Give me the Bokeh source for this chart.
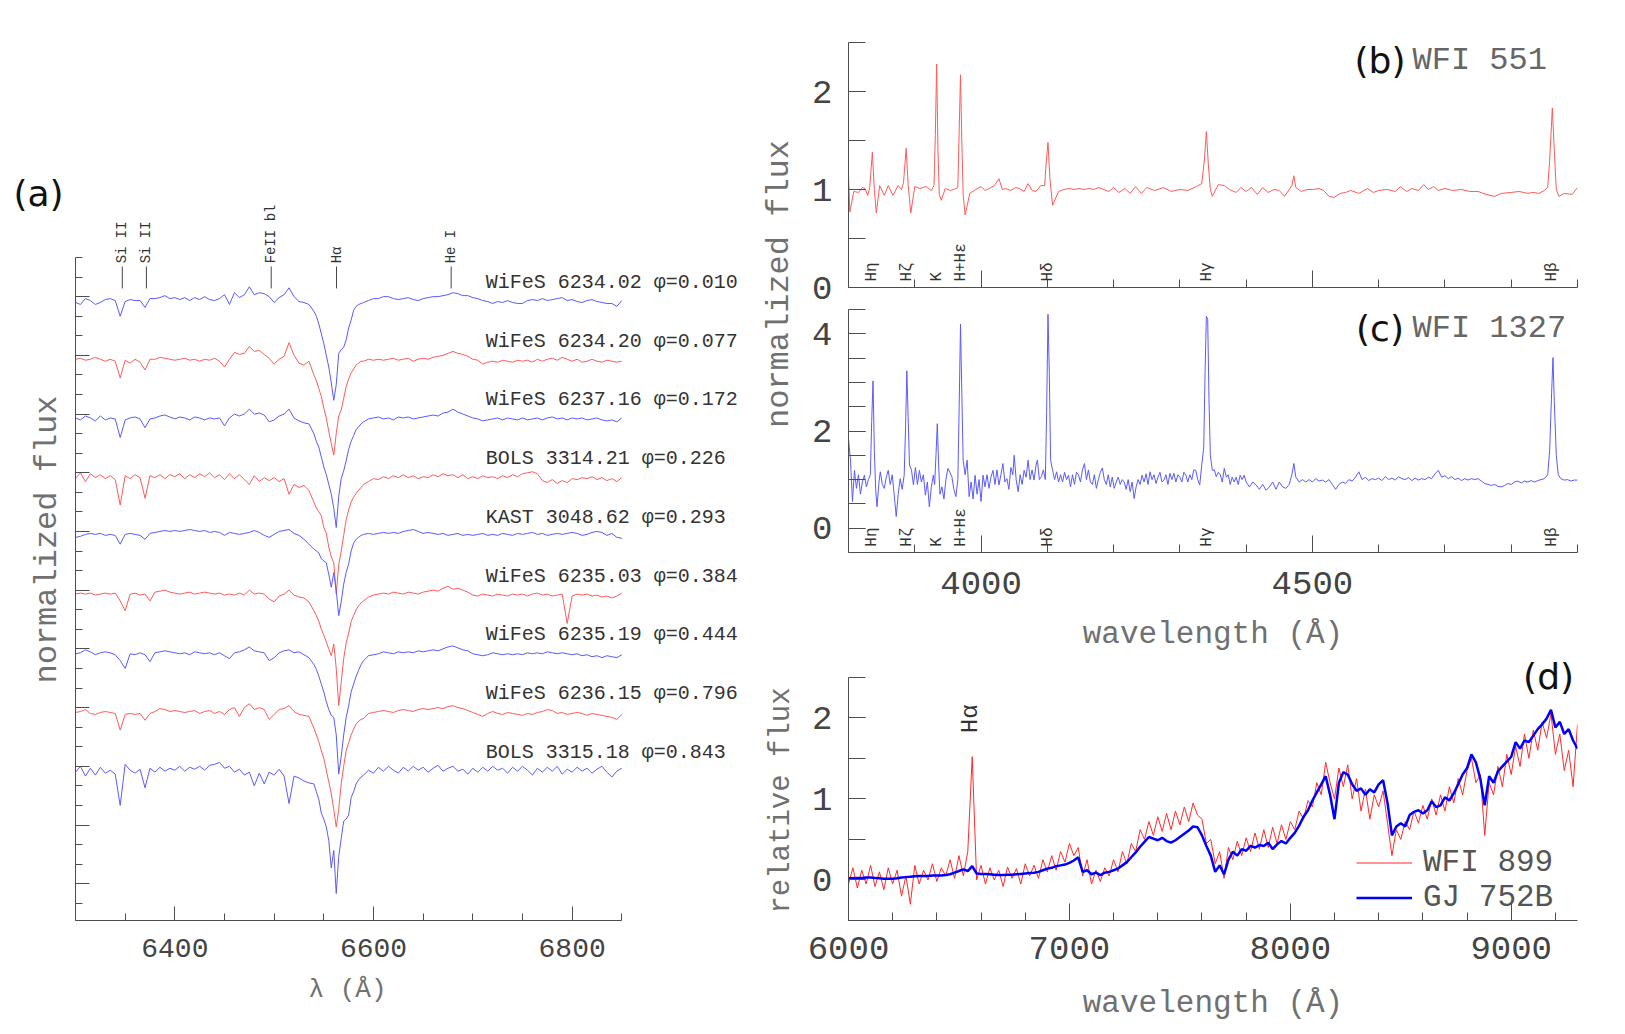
from math import pi

import numpy as np
from bokeh.embed import file_html
from bokeh.layouts import column, row
from bokeh.models import FixedTicker, Label, Legend, LegendItem, Range1d, Title
from bokeh.plotting import figure
from bokeh.resources import INLINE

MONO = "Liberation Mono"
SANS = "DejaVu Sans"
AXIS_COLOR = "#4d4d4d"
TICK_TEXT = "#444444"
TITLE_TEXT = "#707070"
BLUE = "#5a5aff"
RED = "#ff5a5a"

# ---------------------------------------------------------------------------
# (a) H-alpha region, nine epochs, each normalised and shifted down by 0.3
# ---------------------------------------------------------------------------
INSTRUMENTS = ["WiFeS", "WiFeS", "WiFeS", "BOLS", "KAST", "WiFeS", "WiFeS", "WiFeS", "BOLS"]
HJD = ["6234.02", "6234.20", "6237.16", "3314.21", "3048.62", "6235.03", "6235.19", "6236.15", "3315.18"]
PHASES = ["0.010", "0.077", "0.172", "0.226", "0.293", "0.384", "0.444", "0.796", "0.843"]

# wavelength sampling: 5 A on the continuum, 2.5 A across the line core
LAM_A = list(range(6300, 6540, 5)) + [6540 + 2.5 * k for k in range(21)] + list(range(6595, 6851, 5))

F_6234_02 = ([0.99, 0.98, 1.01, 1.00, 0.98, 0.99, 1.005, 1.01, 1.00, 0.92,
              0.995, 1.005, 1.00, 1.00, 0.965, 1.01, 1.01, 1.015, 1.025, 1.01,
              1.015, 1.005, 1.015, 1.00, 1.015, 1.005, 1.02, 1.005, 1.00, 1.01,
              1.03, 0.98, 1.04, 1.015, 1.03, 1.07, 1.03, 1.04, 1.035, 1.02,
              0.99, 1.015, 1.03, 1.065, 1.02, 0.995, 0.99, 0.98]
             + [0.945, 0.92, 0.88, 0.83, 0.78, 0.72, 0.66, 0.58, 0.49, 0.57,
                0.73, 0.75, 0.76, 0.80, 0.86, 0.90, 0.95, 0.97, 0.98, 0.985, 0.99]
             + [1.00, 1.01, 1.01, 1.02, 1.02, 1.01, 1.005, 1.01, 1.015, 1.005,
                1.00, 1.01, 1.015, 1.02, 1.02, 1.025, 1.03, 1.04, 1.035, 1.025,
                1.025, 1.015, 1.01, 1.00, 0.995, 0.985, 0.995, 0.99, 1.00, 0.99,
                0.985, 0.985, 1.00, 1.005, 1.00, 1.01, 1.00, 1.005, 1.01, 1.015,
                1.00, 1.005, 0.995, 0.99, 1.00, 1.005, 0.995, 0.99, 0.985, 0.985,
                0.97, 1.00])

F_6234_20 = ([1.00, 1.005, 0.995, 1.00, 1.01, 1.00, 0.99, 1.00, 0.99, 0.905,
              0.995, 0.98, 1.00, 0.985, 0.945, 1.00, 1.00, 1.01, 1.005, 1.00,
              0.995, 1.00, 1.005, 0.995, 1.00, 0.99, 1.00, 0.995, 1.005, 0.99,
              0.96, 1.00, 1.035, 1.025, 1.03, 1.065, 1.04, 1.045, 1.025, 1.005,
              0.975, 1.00, 1.015, 1.085, 1.02, 0.98, 0.97, 0.99]
             + [0.92, 0.89, 0.85, 0.81, 0.75, 0.70, 0.63, 0.57, 0.51, 0.62,
                0.71, 0.74, 0.80, 0.86, 0.90, 0.93, 0.95, 0.97, 0.98, 0.99, 0.99]
             + [1.00, 0.995, 1.00, 0.995, 1.00, 1.005, 0.995, 1.00, 1.005, 0.99,
                1.00, 1.005, 1.00, 1.01, 1.015, 1.02, 1.03, 1.04, 1.03, 1.025,
                1.015, 1.00, 0.995, 0.975, 0.985, 0.99, 0.985, 0.995, 0.99, 0.985,
                0.995, 0.99, 0.995, 0.985, 1.00, 0.99, 1.00, 1.005, 0.995, 1.01,
                1.00, 0.99, 1.00, 0.985, 0.99, 1.00, 0.99, 0.985, 0.995, 0.99,
                0.985, 0.99])

F_6237_16 = ([1.00, 0.99, 1.01, 1.00, 0.985, 1.01, 0.99, 1.00, 0.995, 0.90,
              0.99, 1.00, 1.005, 0.995, 0.95, 0.995, 1.00, 1.01, 1.015, 1.005,
              0.995, 1.005, 1.00, 0.99, 1.005, 1.00, 0.99, 1.00, 0.995, 1.00,
              0.96, 1.00, 1.02, 1.01, 1.02, 1.045, 1.02, 1.025, 1.015, 0.98,
              0.99, 1.01, 1.02, 1.045, 1.00, 0.985, 0.975, 0.97]
             + [0.92, 0.88, 0.85, 0.80, 0.75, 0.71, 0.66, 0.61, 0.54, 0.44,
                0.60, 0.69, 0.73, 0.78, 0.84, 0.88, 0.91, 0.94, 0.955, 0.97, 0.98]
             + [0.995, 1.00, 1.005, 0.995, 1.00, 0.99, 1.005, 1.00, 1.005, 0.995,
                1.00, 1.005, 1.01, 1.015, 1.01, 1.025, 1.03, 1.045, 1.03, 1.02,
                1.01, 1.00, 0.995, 0.985, 0.99, 0.995, 1.00, 0.99, 1.00, 0.995,
                0.99, 1.00, 0.99, 0.995, 1.00, 0.99, 1.00, 1.005, 0.995, 1.00,
                0.99, 1.00, 0.995, 1.00, 0.99, 0.995, 1.00, 0.99, 0.985, 0.99,
                0.98, 1.00])

F_3314_21 = ([0.99, 1.02, 0.975, 1.015, 0.995, 1.01, 0.99, 1.005, 0.985, 0.855,
              1.005, 0.99, 1.01, 0.995, 0.89, 1.005, 0.995, 1.01, 0.99, 1.01,
              1.00, 1.015, 0.99, 1.01, 0.995, 1.015, 1.00, 1.02, 0.995, 1.01,
              0.985, 1.015, 0.99, 1.01, 0.985, 0.96, 1.005, 0.975, 0.995, 0.98,
              0.995, 0.975, 0.99, 0.91, 0.96, 0.945, 0.955, 0.93]
             + [0.87, 0.84, 0.82, 0.80, 0.74, 0.71, 0.64, 0.59, 0.56, 0.40,
                0.55, 0.62, 0.70, 0.78, 0.83, 0.87, 0.895, 0.915, 0.93, 0.945, 0.96]
             + [0.975, 0.99, 0.985, 1.00, 0.99, 1.005, 0.995, 1.01, 0.995, 1.005,
                0.99, 1.00, 0.995, 1.01, 1.00, 1.015, 1.005, 1.01, 0.995, 1.01,
                0.99, 1.00, 0.99, 1.005, 0.995, 1.00, 0.99, 1.005, 0.995, 1.01,
                1.00, 1.015, 1.02, 1.025, 1.015, 0.98, 0.97, 0.985, 0.965, 0.98,
                0.97, 0.99, 0.985, 0.995, 0.99, 1.00, 0.985, 0.995, 0.98, 0.99,
                0.975, 0.995])

F_3048_62 = ([0.99, 0.995, 1.005, 1.01, 1.005, 1.01, 1.00, 1.005, 1.00, 0.955,
              1.005, 1.01, 1.005, 1.00, 0.98, 1.01, 1.015, 1.02, 1.025, 1.02,
              1.025, 1.02, 1.025, 1.03, 1.025, 1.02, 1.025, 1.015, 1.02, 1.015,
              1.00, 1.015, 1.01, 1.005, 1.01, 1.015, 1.025, 1.015, 1.00, 0.99,
              1.005, 1.02, 1.025, 1.03, 1.01, 1.00, 0.98, 0.955]
             + [0.93, 0.92, 0.91, 0.88, 0.87, 0.86, 0.80, 0.735, 0.81, 0.72,
                0.59, 0.66, 0.75, 0.81, 0.855, 0.92, 0.96, 0.98, 0.99, 1.00, 1.005]
             + [1.01, 1.005, 1.01, 1.015, 1.01, 1.015, 1.01, 1.02, 1.025, 1.03,
                1.02, 1.01, 1.015, 1.01, 1.005, 1.01, 1.00, 1.005, 1.01, 1.00,
                1.005, 1.00, 1.005, 1.01, 1.00, 1.005, 1.00, 1.01, 1.005, 1.00,
                1.01, 1.005, 1.01, 1.015, 1.005, 1.01, 1.00, 1.005, 1.01, 1.005,
                1.01, 1.015, 1.01, 1.00, 1.005, 1.015, 1.02, 1.015, 1.00, 1.01,
                0.99, 0.985])

F_6235_03 = ([1.00, 1.005, 1.00, 1.005, 0.995, 1.00, 1.005, 1.00, 1.005, 0.965,
              0.915, 1.00, 1.005, 0.995, 1.00, 0.965, 1.01, 1.015, 1.02, 1.01,
              1.005, 1.00, 1.005, 1.01, 1.00, 1.005, 1.01, 1.005, 1.00, 1.005,
              0.995, 1.00, 0.995, 1.005, 0.995, 1.02, 1.00, 1.005, 1.00, 0.975,
              0.96, 0.99, 1.00, 1.02, 0.995, 0.985, 0.98, 0.96]
             + [0.915, 0.89, 0.86, 0.82, 0.79, 0.755, 0.72, 0.685, 0.745, 0.62,
                0.43, 0.55, 0.67, 0.75, 0.80, 0.86, 0.89, 0.92, 0.94, 0.955, 0.965]
             + [0.985, 0.995, 1.00, 1.005, 1.00, 1.01, 1.005, 1.00, 1.01, 1.005,
                1.00, 1.01, 1.015, 1.02, 1.015, 1.03, 1.04, 1.025, 1.03, 1.02,
                1.01, 0.995, 0.99, 1.00, 0.995, 0.99, 1.00, 0.995, 0.99, 1.00,
                0.995, 1.00, 0.99, 1.00, 1.005, 0.995, 1.00, 0.99, 0.995, 1.00,
                0.85, 0.99, 1.00, 0.995, 1.00, 0.99, 0.995, 0.985, 0.99, 0.98,
                0.99, 1.005])

F_6235_19 = ([0.995, 1.00, 1.015, 1.005, 0.99, 1.00, 1.005, 1.00, 0.99, 0.96,
              0.92, 0.995, 0.99, 1.00, 0.99, 0.955, 1.00, 1.005, 1.01, 1.005,
              1.00, 0.995, 1.00, 0.99, 1.005, 1.00, 0.995, 1.00, 0.99, 1.00,
              0.985, 0.97, 1.00, 1.005, 1.015, 1.03, 1.01, 1.005, 1.00, 0.96,
              0.975, 1.00, 1.01, 1.015, 1.00, 1.005, 0.99, 0.975]
             + [0.94, 0.915, 0.88, 0.84, 0.80, 0.75, 0.71, 0.68, 0.67, 0.58,
                0.38, 0.47, 0.58, 0.67, 0.73, 0.80, 0.84, 0.88, 0.91, 0.94, 0.96]
             + [0.985, 0.99, 0.995, 1.005, 1.00, 0.995, 1.005, 1.00, 1.005, 1.00,
                1.01, 1.005, 1.01, 1.015, 1.01, 1.02, 1.03, 1.035, 1.025, 1.015,
                1.01, 0.995, 0.99, 0.985, 0.99, 1.00, 0.995, 0.99, 0.995, 0.99,
                0.995, 0.99, 1.00, 0.995, 1.00, 0.995, 1.005, 1.00, 0.995, 1.00,
                0.995, 0.99, 0.995, 0.985, 0.99, 0.98, 0.985, 0.975, 0.985, 0.98,
                0.975, 0.99])

F_6236_15 = ([0.995, 1.00, 1.01, 0.99, 0.985, 0.995, 1.00, 0.995, 0.99, 0.905,
              0.985, 0.99, 0.985, 0.99, 0.955, 0.99, 1.00, 1.015, 1.01, 1.00,
              1.005, 1.00, 0.995, 1.00, 1.005, 0.99, 1.00, 1.005, 0.99, 1.00,
              0.985, 1.01, 1.02, 0.975, 1.02, 1.04, 1.01, 1.02, 1.01, 0.96,
              0.985, 1.01, 1.015, 1.03, 1.00, 0.985, 0.98, 0.975]
             + [0.915, 0.88, 0.845, 0.80, 0.76, 0.70, 0.64, 0.58, 0.50, 0.41,
                0.50, 0.63, 0.72, 0.80, 0.84, 0.88, 0.91, 0.935, 0.95, 0.96, 0.965]
             + [0.99, 0.995, 1.00, 1.005, 1.00, 0.995, 1.005, 1.01, 1.005, 1.00,
                1.01, 1.015, 1.01, 1.015, 1.02, 1.015, 1.025, 1.03, 1.02, 1.015,
                1.005, 0.995, 0.985, 0.975, 0.99, 1.00, 0.99, 0.985, 0.995, 0.99,
                0.985, 0.98, 0.99, 0.985, 0.995, 1.00, 1.01, 1.005, 0.99, 0.995,
                0.985, 0.99, 0.995, 0.99, 0.98, 0.99, 0.985, 0.98, 0.975, 0.97,
                0.96, 0.985])

F_3315_18 = ([0.99, 1.02, 0.97, 1.01, 0.975, 1.015, 0.985, 1.00, 0.98, 0.82,
              1.03, 1.00, 0.985, 1.005, 0.91, 1.01, 0.99, 1.015, 0.995, 1.01,
              1.00, 1.02, 0.995, 1.015, 1.005, 1.02, 1.00, 1.025, 1.03, 1.04,
              1.01, 1.02, 0.99, 1.005, 0.975, 0.99, 0.92, 0.985, 0.93, 0.99,
              0.975, 1.005, 0.97, 0.83, 0.97, 0.96, 0.945, 0.935]
             + [0.93, 0.89, 0.85, 0.78, 0.75, 0.71, 0.64, 0.50, 0.59, 0.37,
                0.56, 0.65, 0.74, 0.75, 0.77, 0.86, 0.89, 0.93, 0.95, 0.965, 0.975]
             + [1.00, 0.985, 1.015, 0.995, 1.02, 1.00, 0.985, 1.015, 0.995, 1.02,
                1.00, 1.015, 0.99, 1.01, 1.025, 0.995, 1.01, 1.02, 0.995, 1.005,
                0.98, 1.01, 0.99, 1.015, 0.995, 1.02, 1.00, 1.01, 0.985, 1.015,
                0.995, 1.02, 1.00, 0.975, 1.01, 0.99, 1.015, 0.995, 1.02, 0.98,
                1.005, 0.99, 1.015, 0.995, 1.01, 0.985, 1.005, 1.02, 0.99, 0.965,
                0.995, 1.01])

SPECTRA_A = [F_6234_02, F_6234_20, F_6237_16, F_3314_21, F_3048_62,
             F_6235_03, F_6235_19, F_6236_15, F_3315_18]
COLORS_A = [BLUE, RED, BLUE, RED, BLUE, RED, BLUE, RED, BLUE]
OFFSET_A = 0.3
for f in SPECTRA_A:
    assert len(f) == len(LAM_A), (len(f), len(LAM_A))

LINE_IDS_A = ["Si II", "Si II", "FeII bl", "H\u03b1", "He I"]
LINE_WAVES_A = [6347.1, 6371.4, 6497.0, 6562.8, 6678.2]

# ---------------------------------------------------------------------------
# (b) WFI 551 and (c) WFI 1327, blue spectra (wavelength, normalised flux)
# ---------------------------------------------------------------------------
WFI551 = [(3800, 1.15), (3802, 0.77), (3808, 0.98), (3815, 0.97), (3821, 1.02), (3825, 1.01),
          (3829, 0.94), (3832, 1.02), (3836, 1.38), (3839, 1.00), (3842, 0.76), (3847, 1.04),
          (3854, 0.94), (3860, 1.04), (3867, 0.94), (3875, 1.04), (3880, 1.00), (3883, 1.07),
          (3887, 1.42), (3890, 1.05), (3894, 0.76), (3900, 1.03), (3908, 1.01), (3917, 1.03),
          (3925, 0.99), (3929, 1.04), (3931, 1.55), (3933, 2.28), (3935, 1.40), (3937, 0.95),
          (3940, 0.89), (3946, 1.01), (3954, 0.99), (3962, 1.01), (3965, 1.02), (3967, 1.60),
          (3969, 2.17), (3971, 1.50), (3973, 0.95), (3976, 0.74), (3983, 0.96), (3992, 1.00),
          (4000, 1.03), (4006, 0.99), (4012, 1.01), (4020, 1.04), (4027, 1.11), (4032, 1.00),
          (4037, 1.01), (4045, 0.99), (4052, 1.02), (4058, 1.01), (4065, 0.98), (4071, 1.06),
          (4077, 0.99), (4083, 0.98), (4090, 1.04), (4096, 1.04), (4098, 1.25), (4101, 1.48),
          (4104, 1.10), (4108, 0.84), (4117, 0.98), (4125, 1.00), (4133, 1.01), (4140, 1.00),
          (4148, 1.01), (4155, 1.00), (4163, 1.01), (4170, 1.00), (4178, 1.02), (4185, 1.00),
          (4193, 0.98), (4200, 1.02), (4208, 0.97), (4217, 1.01), (4225, 0.96), (4233, 1.03),
          (4242, 0.96), (4250, 1.02), (4262, 0.99), (4275, 1.02), (4287, 0.98), (4300, 1.00),
          (4312, 0.99), (4325, 1.03), (4333, 1.06), (4337, 1.30), (4340, 1.59), (4343, 1.25),
          (4346, 1.00), (4349, 0.93), (4358, 1.05), (4367, 1.04), (4375, 1.00), (4385, 0.97),
          (4392, 1.02), (4400, 0.98), (4408, 1.02), (4417, 0.95), (4425, 1.02), (4433, 0.97),
          (4442, 1.00), (4450, 0.99), (4458, 0.93), (4465, 1.00), (4469, 1.04), (4472, 1.14),
          (4475, 1.02), (4483, 0.98), (4492, 1.00), (4500, 1.00), (4510, 1.01), (4517, 0.99),
          (4525, 0.93), (4533, 0.92), (4542, 0.96), (4550, 0.97), (4558, 0.99), (4570, 0.96),
          (4583, 1.01), (4592, 0.97), (4600, 0.99), (4612, 1.00), (4625, 0.98), (4633, 1.03),
          (4642, 0.98), (4650, 1.01), (4660, 0.99), (4668, 1.05), (4675, 1.00), (4683, 1.03),
          (4690, 0.99), (4700, 1.01), (4712, 0.99), (4725, 1.00), (4737, 0.98), (4750, 0.98),
          (4762, 0.95), (4775, 0.93), (4785, 0.96), (4800, 0.97), (4812, 0.98), (4825, 0.96),
          (4833, 0.97), (4842, 0.96), (4850, 0.99), (4855, 1.02), (4858, 1.30), (4862, 1.83),
          (4865, 1.40), (4868, 1.00), (4872, 0.93), (4880, 0.96), (4892, 0.95), (4900, 1.02)]

WFI1327 = [(3800, 1.84), (3803, 1.40), (3806, 0.55), (3809, 1.19), (3812, 0.82), (3815, 1.10),
           (3818, 0.70), (3821, 0.95), (3824, 1.09), (3827, 0.85), (3830, 1.00), (3833, 1.10),
           (3835, 2.20), (3837, 3.03), (3839, 1.60), (3841, 0.80), (3843, 0.44), (3846, 0.95),
           (3848, 1.16), (3851, 0.90), (3854, 0.82), (3857, 1.05), (3860, 1.19), (3863, 0.90),
           (3866, 1.10), (3869, 0.68), (3872, 0.24), (3875, 0.70), (3878, 1.02), (3881, 0.80),
           (3884, 1.09), (3886, 2.00), (3888, 3.24), (3890, 2.30), (3892, 1.30), (3895, 1.20),
           (3898, 0.89), (3901, 1.25), (3904, 0.90), (3907, 1.19), (3910, 0.95), (3913, 1.10),
           (3916, 0.68), (3919, 0.95), (3922, 0.44), (3925, 0.85), (3928, 1.09), (3930, 0.90),
           (3932, 1.50), (3934, 2.15), (3936, 1.30), (3938, 0.70), (3941, 0.85), (3944, 0.60),
           (3947, 1.00), (3950, 1.23), (3953, 1.15), (3956, 1.06), (3959, 0.80), (3962, 0.65),
           (3965, 1.00), (3967, 2.50), (3969, 4.20), (3971, 2.80), (3973, 1.40), (3976, 1.10),
           (3979, 1.40), (3982, 0.65), (3985, 0.95), (3988, 0.60), (3991, 1.09), (3994, 0.70),
           (3997, 1.00), (4000, 0.55), (4003, 1.09), (4006, 0.85), (4009, 1.10), (4012, 0.82),
           (4015, 1.05), (4018, 1.19), (4021, 0.90), (4024, 1.20), (4027, 0.89), (4030, 1.10),
           (4033, 1.33), (4036, 0.95), (4039, 1.02), (4042, 0.80), (4045, 1.25), (4048, 1.10),
           (4050, 1.50), (4053, 1.00), (4056, 0.75), (4059, 1.10), (4062, 0.90), (4065, 1.19),
           (4068, 1.05), (4071, 1.40), (4074, 1.00), (4077, 1.20), (4080, 0.99), (4083, 1.30),
           (4085, 1.40), (4088, 1.00), (4091, 1.06), (4094, 1.20), (4097, 1.00), (4099, 2.40),
           (4101, 4.40), (4103, 3.20), (4105, 1.40), (4108, 1.19), (4111, 1.00), (4114, 1.16),
           (4117, 0.95), (4120, 1.10), (4123, 0.95), (4126, 1.15), (4129, 1.00), (4132, 1.09),
           (4135, 0.85), (4138, 1.10), (4141, 0.90), (4144, 1.15), (4147, 1.10), (4150, 0.95),
           (4153, 1.20), (4156, 1.33), (4159, 1.00), (4162, 1.20), (4165, 0.95), (4168, 0.90),
           (4171, 1.10), (4174, 0.82), (4177, 1.00), (4180, 1.15), (4183, 1.24), (4186, 1.00),
           (4189, 0.90), (4192, 1.10), (4195, 0.85), (4198, 1.05), (4201, 0.82), (4204, 0.95),
           (4207, 1.05), (4210, 0.90), (4213, 1.00), (4216, 0.95), (4219, 0.80), (4222, 1.00),
           (4225, 0.75), (4228, 0.95), (4231, 0.61), (4234, 0.85), (4237, 1.00), (4240, 0.90),
           (4243, 1.09), (4246, 0.95), (4249, 1.12), (4252, 0.90), (4255, 1.16), (4258, 1.00),
           (4261, 1.10), (4264, 0.92), (4267, 1.05), (4270, 1.15), (4273, 0.95), (4276, 0.99),
           (4279, 1.10), (4282, 0.90), (4285, 1.13), (4288, 1.00), (4291, 1.13), (4294, 0.95),
           (4297, 1.10), (4300, 1.05), (4303, 0.95), (4306, 1.15), (4309, 1.09), (4312, 0.95),
           (4315, 1.10), (4318, 1.00), (4321, 1.20), (4324, 1.19), (4327, 1.00), (4330, 0.89),
           (4333, 1.30), (4336, 1.65), (4338, 3.20), (4340, 4.36), (4342, 4.30), (4344, 2.60),
           (4346, 1.50), (4349, 1.19), (4352, 1.20), (4355, 1.06), (4358, 1.15), (4361, 1.10),
           (4364, 0.95), (4367, 1.23), (4370, 1.05), (4373, 1.10), (4376, 0.90), (4379, 1.05),
           (4382, 0.95), (4385, 1.05), (4388, 0.90), (4391, 1.09), (4394, 1.00), (4397, 1.09),
           (4400, 0.95), (4405, 0.85), (4410, 0.95), (4415, 0.89), (4420, 0.80), (4425, 0.90),
           (4430, 0.78), (4435, 0.85), (4440, 0.95), (4445, 0.80), (4450, 0.95), (4455, 0.85),
           (4460, 0.82), (4465, 0.90), (4469, 1.10), (4472, 1.33), (4475, 1.05), (4480, 0.95),
           (4485, 1.00), (4490, 0.95), (4495, 1.00), (4500, 0.95), (4505, 1.02), (4510, 0.97),
           (4515, 0.99), (4520, 0.95), (4525, 1.00), (4530, 0.90), (4535, 0.80), (4540, 0.90),
           (4545, 0.95), (4550, 0.92), (4555, 1.00), (4560, 0.97), (4565, 1.05), (4570, 1.16),
           (4575, 1.00), (4580, 1.05), (4585, 0.98), (4590, 1.02), (4595, 1.00), (4600, 1.03),
           (4605, 0.98), (4610, 1.06), (4615, 1.00), (4620, 1.03), (4625, 0.99), (4630, 1.06),
           (4635, 1.02), (4640, 1.00), (4645, 1.04), (4650, 0.98), (4655, 1.03), (4660, 0.99),
           (4665, 1.02), (4670, 1.00), (4675, 1.05), (4680, 1.02), (4685, 1.12), (4690, 1.19),
           (4695, 1.05), (4700, 1.08), (4705, 1.02), (4710, 1.06), (4715, 1.00), (4720, 1.03),
           (4725, 0.98), (4730, 1.02), (4735, 0.99), (4740, 1.02), (4745, 1.00), (4750, 1.02),
           (4755, 0.97), (4760, 0.92), (4765, 0.90), (4770, 0.88), (4775, 0.90), (4780, 0.86),
           (4785, 0.85), (4790, 0.88), (4795, 0.92), (4800, 0.90), (4805, 0.95), (4810, 0.97),
           (4815, 0.93), (4820, 0.97), (4825, 0.95), (4830, 0.98), (4835, 0.95), (4840, 0.98),
           (4845, 1.00), (4850, 1.02), (4855, 1.10), (4858, 1.60), (4861, 2.80), (4863, 3.51),
           (4865, 2.60), (4868, 1.50), (4871, 1.10), (4875, 1.02), (4880, 0.99), (4885, 1.00),
           (4890, 0.97), (4895, 0.99), (4900, 0.99)]

LAM_B, FLUX_B = zip(*WFI551)
LAM_C, FLUX_C = zip(*WFI1327)

LINE_IDS_BC = ["H\u03b7", "H\u03b6", "K", "H+H\u03b5", "H\u03b4", "H\u03b3", "H\u03b2"]
LINE_WAVES_BC = [3835.4, 3889.0, 3933.7, 3970.1, 4101.7, 4340.5, 4861.3]

# ---------------------------------------------------------------------------
# (d) red spectrum of WFI 899 against the M dwarf GJ 752B, 20 A sampling
# ---------------------------------------------------------------------------
LAM_D = list(range(6000, 9301, 20))
FLUX_WFI899 = [-0.05, 0.15, -0.10, 0.12, -0.05, 0.18, -0.08, 0.10, -0.12, 0.15,
               -0.05, 0.12, -0.20, 0.05, -0.30, 0.18, -0.05, 0.12, 0.00, 0.20,
               -0.02, 0.15, 0.05, 0.25, 0.02, 0.30, 0.05, 0.35, 1.52, 0.00,
               0.18, -0.05, 0.15, 0.00, 0.12, -0.08, 0.16, 0.02, 0.14, -0.05,
               0.20, 0.05, 0.18, 0.02, 0.25, 0.10, 0.30, 0.12, 0.35, 0.22,
               0.45, 0.30, 0.40, 0.05, 0.25, -0.05, 0.12, -0.02, 0.15, 0.05,
               0.25, 0.10, 0.35, 0.20, 0.45, 0.35, 0.62, 0.50, 0.72, 0.55,
               0.78, 0.60, 0.82, 0.62, 0.85, 0.68, 0.90, 0.72, 0.95, 0.80,
               0.75, 0.45, 0.50, 0.20, 0.35, 0.02, 0.40, 0.25, 0.48, 0.30,
               0.52, 0.35, 0.58, 0.38, 0.62, 0.40, 0.65, 0.45, 0.68, 0.50,
               0.72, 0.62, 0.85, 0.75, 0.98, 0.90, 1.20, 1.05, 1.45, 1.20,
               1.00, 1.38, 1.15, 1.42, 1.00, 1.25, 0.85, 1.12, 0.75, 1.05,
               0.90, 1.10, 0.70, 0.30, 0.62, 0.50, 0.72, 0.62, 0.85, 0.70,
               0.92, 0.75, 1.00, 0.80, 1.05, 0.85, 1.15, 0.95, 1.25, 1.05,
               1.35, 1.50, 1.20, 1.30, 0.55, 1.20, 1.05, 1.40, 1.15, 1.55,
               1.30, 1.65, 1.40, 1.80, 1.50, 1.85, 1.60, 1.95, 1.75, 2.05,
               1.55, 1.80, 1.35, 1.60, 1.15, 1.92]
FLUX_GJ752B = [0.02, 0.02, 0.025, 0.025, 0.03, 0.03, 0.025, 0.02, 0.015, 0.015,
               0.015, 0.02, 0.03, 0.035, 0.04, 0.045, 0.05, 0.05, 0.05, 0.055,
               0.055, 0.055, 0.06, 0.07, 0.09, 0.11, 0.13, 0.11, 0.17, 0.08,
               0.075, 0.075, 0.07, 0.065, 0.06, 0.06, 0.065, 0.065, 0.07, 0.075,
               0.08, 0.085, 0.09, 0.10, 0.12, 0.14, 0.15, 0.17, 0.18, 0.19,
               0.21, 0.24, 0.28, 0.10, 0.12, 0.07, 0.09, 0.06, 0.09, 0.10,
               0.12, 0.14, 0.18, 0.22, 0.28, 0.34, 0.41, 0.47, 0.53, 0.51,
               0.49, 0.52, 0.48, 0.46, 0.49, 0.53, 0.57, 0.61, 0.66, 0.65,
               0.55, 0.42, 0.30, 0.10, 0.18, 0.07, 0.25, 0.35, 0.30, 0.38,
               0.36, 0.42, 0.40, 0.43, 0.42, 0.46, 0.38, 0.44, 0.48, 0.45,
               0.52, 0.58, 0.67, 0.78, 0.86, 0.98, 1.08, 1.18, 1.28, 1.05,
               0.75, 1.20, 1.33, 1.30, 1.18, 1.10, 1.13, 1.05, 1.12, 1.08,
               1.18, 1.23, 0.95, 0.55, 0.66, 0.70, 0.66, 0.80, 0.84, 0.86,
               0.82, 0.86, 0.97, 0.90, 0.92, 1.02, 0.98, 1.07, 1.18, 1.30,
               1.38, 1.55, 1.45, 1.25, 0.92, 1.28, 1.20, 1.34, 1.40, 1.46,
               1.52, 1.70, 1.62, 1.72, 1.70, 1.78, 1.86, 1.92, 1.99, 2.10,
               1.88, 1.95, 1.80, 1.86, 1.72, 1.62]
assert len(FLUX_WFI899) == len(LAM_D) and len(FLUX_GJ752B) == len(LAM_D)


# ---------------------------------------------------------------------------
# helpers
# ---------------------------------------------------------------------------
def base_figure(width, height, x_range, y_range, left, right, top, bottom):
    p = figure(width=width, height=height, x_range=x_range, y_range=y_range,
               output_backend="svg", toolbar_location=None,
               min_border_left=left, min_border_right=right,
               min_border_top=top, min_border_bottom=bottom)
    p.outline_line_color = None
    p.grid.visible = False
    p.background_fill_color = "white"
    p.border_fill_color = "white"
    return p


# the side strips share the frame rows of panel (a): pixel rows FRAME_TOP..FRAME_BOTTOM
FRAME_TOP, FRAME_BOTTOM = 135, 920


def text_strip(width):
    """A bare canvas in pixel units (y down) that only carries titles."""
    p = figure(width=width, height=1034, x_range=Range1d(0, width),
               y_range=Range1d(FRAME_BOTTOM, FRAME_TOP),
               x_axis_type=None, y_axis_type=None, output_backend="svg",
               toolbar_location=None, min_border=0)
    p.outline_line_color = None
    p.background_fill_color = "white"
    p.border_fill_color = "white"
    return p


def style_axis(ax, ticks, minor, major_len, minor_len, label_px, standoff, bounds=None):
    ax.ticker = FixedTicker(ticks=ticks, minor_ticks=minor)
    ax.axis_line_color = AXIS_COLOR
    ax.major_tick_line_color = AXIS_COLOR
    ax.minor_tick_line_color = AXIS_COLOR
    ax.major_tick_in = major_len
    ax.major_tick_out = 0
    ax.minor_tick_in = minor_len
    ax.minor_tick_out = 0
    ax.major_label_standoff = standoff
    if bounds is not None:
        ax.bounds = bounds
    if label_px:
        ax.major_label_text_font = MONO
        ax.major_label_text_font_size = f"{label_px}px"
        ax.major_label_text_color = TICK_TEXT
    else:
        ax.major_label_text_font_size = "1px"
        ax.major_label_text_color = None
    ax.axis_label_text_font = MONO
    ax.axis_label_text_font_style = "normal"
    ax.axis_label_text_color = TITLE_TEXT


def text_label(p, x, y, text, size, font=MONO, color="#333333", align="left", angle=0.0):
    p.add_layout(Label(x=x, y=y, text=text, angle=angle, text_align=align,
                       text_baseline="middle", text_font=font,
                       text_font_size=f"{size}px", text_color=color))


# ---------------------------------------------------------------------------
# panel (a)
# ---------------------------------------------------------------------------
A_XMIN, A_XMAX = 6300, 6850
A_YMIN, A_YMAX = -2.168, 1.22
pa = base_figure(690, 1034, Range1d(A_XMIN, 6984.6), Range1d(A_YMIN, 1.8434),
                 5, 5, FRAME_TOP, 1034 - FRAME_BOTTOM)
style_axis(pa.xaxis[0], [6400, 6600, 6800], list(range(6300, 6851, 50)), 14, 7, 28, 18,
           bounds=(A_XMIN, A_XMAX))
style_axis(pa.yaxis[0], [round(1.02 - 0.3 * k, 3) for k in range(11)],
           [round(1.22 - 0.1 * k, 3) for k in range(34)], 14, 7, None, 0,
           bounds=(A_YMIN, A_YMAX))
pa.add_layout(Title(text="\u03bb (\u00c5)", align="left", offset=233, standoff=27,
                    text_font=MONO, text_font_size="26px", text_font_style="normal",
                    text_color=TITLE_TEXT), "below")

for i, (flux, color) in enumerate(zip(SPECTRA_A, COLORS_A)):
    pa.line(LAM_A, np.asarray(flux) - OFFSET_A * i, line_color=color, line_width=1)

pa.segment(x0=LINE_WAVES_A, y0=[1.062] * len(LINE_WAVES_A),
           x1=LINE_WAVES_A, y1=[1.174] * len(LINE_WAVES_A),
           line_color="#444444", line_width=1)
for w, name in zip(LINE_WAVES_A, LINE_IDS_A):
    text_label(pa, w, 1.19, name, 14, angle=pi / 2)

for i, (ins, hjd, ph) in enumerate(zip(INSTRUMENTS, HJD, PHASES)):
    text_label(pa, 6713, 1.092 - OFFSET_A * i, f"{ins:<5} {hjd} \u03c6={ph}", 20)

# panel letter and y title of (a)
strip_a = text_strip(70)
text_label(strip_a, 38, 193, "(a)", 36, font=SANS, color="#111111", align="center")
text_label(strip_a, 47, 539, "normalized flux", 32, color=TITLE_TEXT, align="center", angle=pi / 2)

# ---------------------------------------------------------------------------
# panels (b) and (c), sharing the wavelength axis
# ---------------------------------------------------------------------------
x_blue = Range1d(3800, 4900)
minor_blue = list(range(3800, 4901, 100))

pb = base_figure(825, 308, x_blue, Range1d(0, 2.5), 48, 48, 42, 21)
style_axis(pb.xaxis[0], [4000, 4500], minor_blue, 17, 8, None, 0)
style_axis(pb.yaxis[0], [0, 1, 2], [0, 0.5, 1, 1.5, 2, 2.5], 17, 17, 34, 16)
pb.line(LAM_B, FLUX_B, line_color=RED, line_width=1)
for w, name in zip(LINE_WAVES_BC, LINE_IDS_BC):
    text_label(pb, w, 0.06, name, 16, angle=pi / 2)
text_label(pb, 4602, 2.316, "(b)", 36, font=SANS, color="#111111", align="center")
text_label(pb, 4651, 2.316, "WFI 551", 32, color="#666666")

pc = base_figure(825, 346, x_blue, Range1d(-0.5, 4.5), 48, 48, 1, 100)
style_axis(pc.xaxis[0], [4000, 4500], minor_blue, 17, 8, 34, 19)
pc.xaxis[0].axis_label = "wavelength (\u00c5)"
pc.xaxis[0].axis_label_text_font_size = "31px"
pc.xaxis[0].axis_label_standoff = 20
style_axis(pc.yaxis[0], [0, 2, 4], [0.5 * k for k in range(10)], 17, 17, 34, 16)
pc.line(LAM_C, FLUX_C, line_color=BLUE, line_width=1)
for w, name in zip(LINE_WAVES_BC, LINE_IDS_BC):
    text_label(pc, w, -0.38, name, 16, angle=pi / 2)
text_label(pc, 4602, 4.10, "(c)", 36, font=SANS, color="#111111", align="center")
text_label(pc, 4651, 4.10, "WFI 1327", 32, color="#666666")

# ---------------------------------------------------------------------------
# panel (d)
# ---------------------------------------------------------------------------
pd_ = base_figure(825, 380, Range1d(6000, 9300), Range1d(-0.5, 2.781), 48, 48, 0, 114)
style_axis(pd_.xaxis[0], [6000, 7000, 8000, 9000], list(range(6000, 9301, 200)), 17, 8, 34, 16)
pd_.xaxis[0].axis_label = "wavelength (\u00c5)"
pd_.xaxis[0].axis_label_text_font_size = "31px"
pd_.xaxis[0].axis_label_standoff = 24
style_axis(pd_.yaxis[0], [0, 1, 2], [0.5 * k - 0.5 for k in range(7)], 17, 17, 34, 16,
           bounds=(-0.5, 2.5))

r_wfi = pd_.line(LAM_D, FLUX_WFI899, line_color="#ff2a2a", line_width=1)
r_gj = pd_.line(LAM_D, FLUX_GJ752B, line_color="#0000ff", line_width=2.5)
text_label(pd_, 6550, 1.81, "H\u03b1", 24, angle=pi / 2)
text_label(pd_, 9169, 2.5094, "(d)", 36, font=SANS, color="#111111", align="center")

legend = Legend(items=[LegendItem(label="WFI 899", renderers=[r_wfi]),
                       LegendItem(label="GJ 752B", renderers=[r_gj])],
                location=(508, 5), orientation="vertical",
                border_line_color=None, background_fill_alpha=0,
                padding=0, margin=0, spacing=0,
                glyph_width=56, glyph_height=31, label_height=31, label_standoff=11,
                label_text_font=MONO, label_text_font_size="31px",
                label_text_color="#555555")
pd_.add_layout(legend)

# y titles of the right-hand column
strip_r = text_strip(40)
text_label(strip_r, 19, 283.5, "normalized flux", 32, color=TITLE_TEXT, align="center", angle=pi / 2)
text_label(strip_r, 21, 800, "relative flux", 29, color=TITLE_TEXT, align="center", angle=pi / 2)

layout = row(strip_a, pa, strip_r, column(pb, pc, pd_))

with open("out.html", "w") as fh:
    fh.write(file_html(layout, INLINE, title="spectra"))
